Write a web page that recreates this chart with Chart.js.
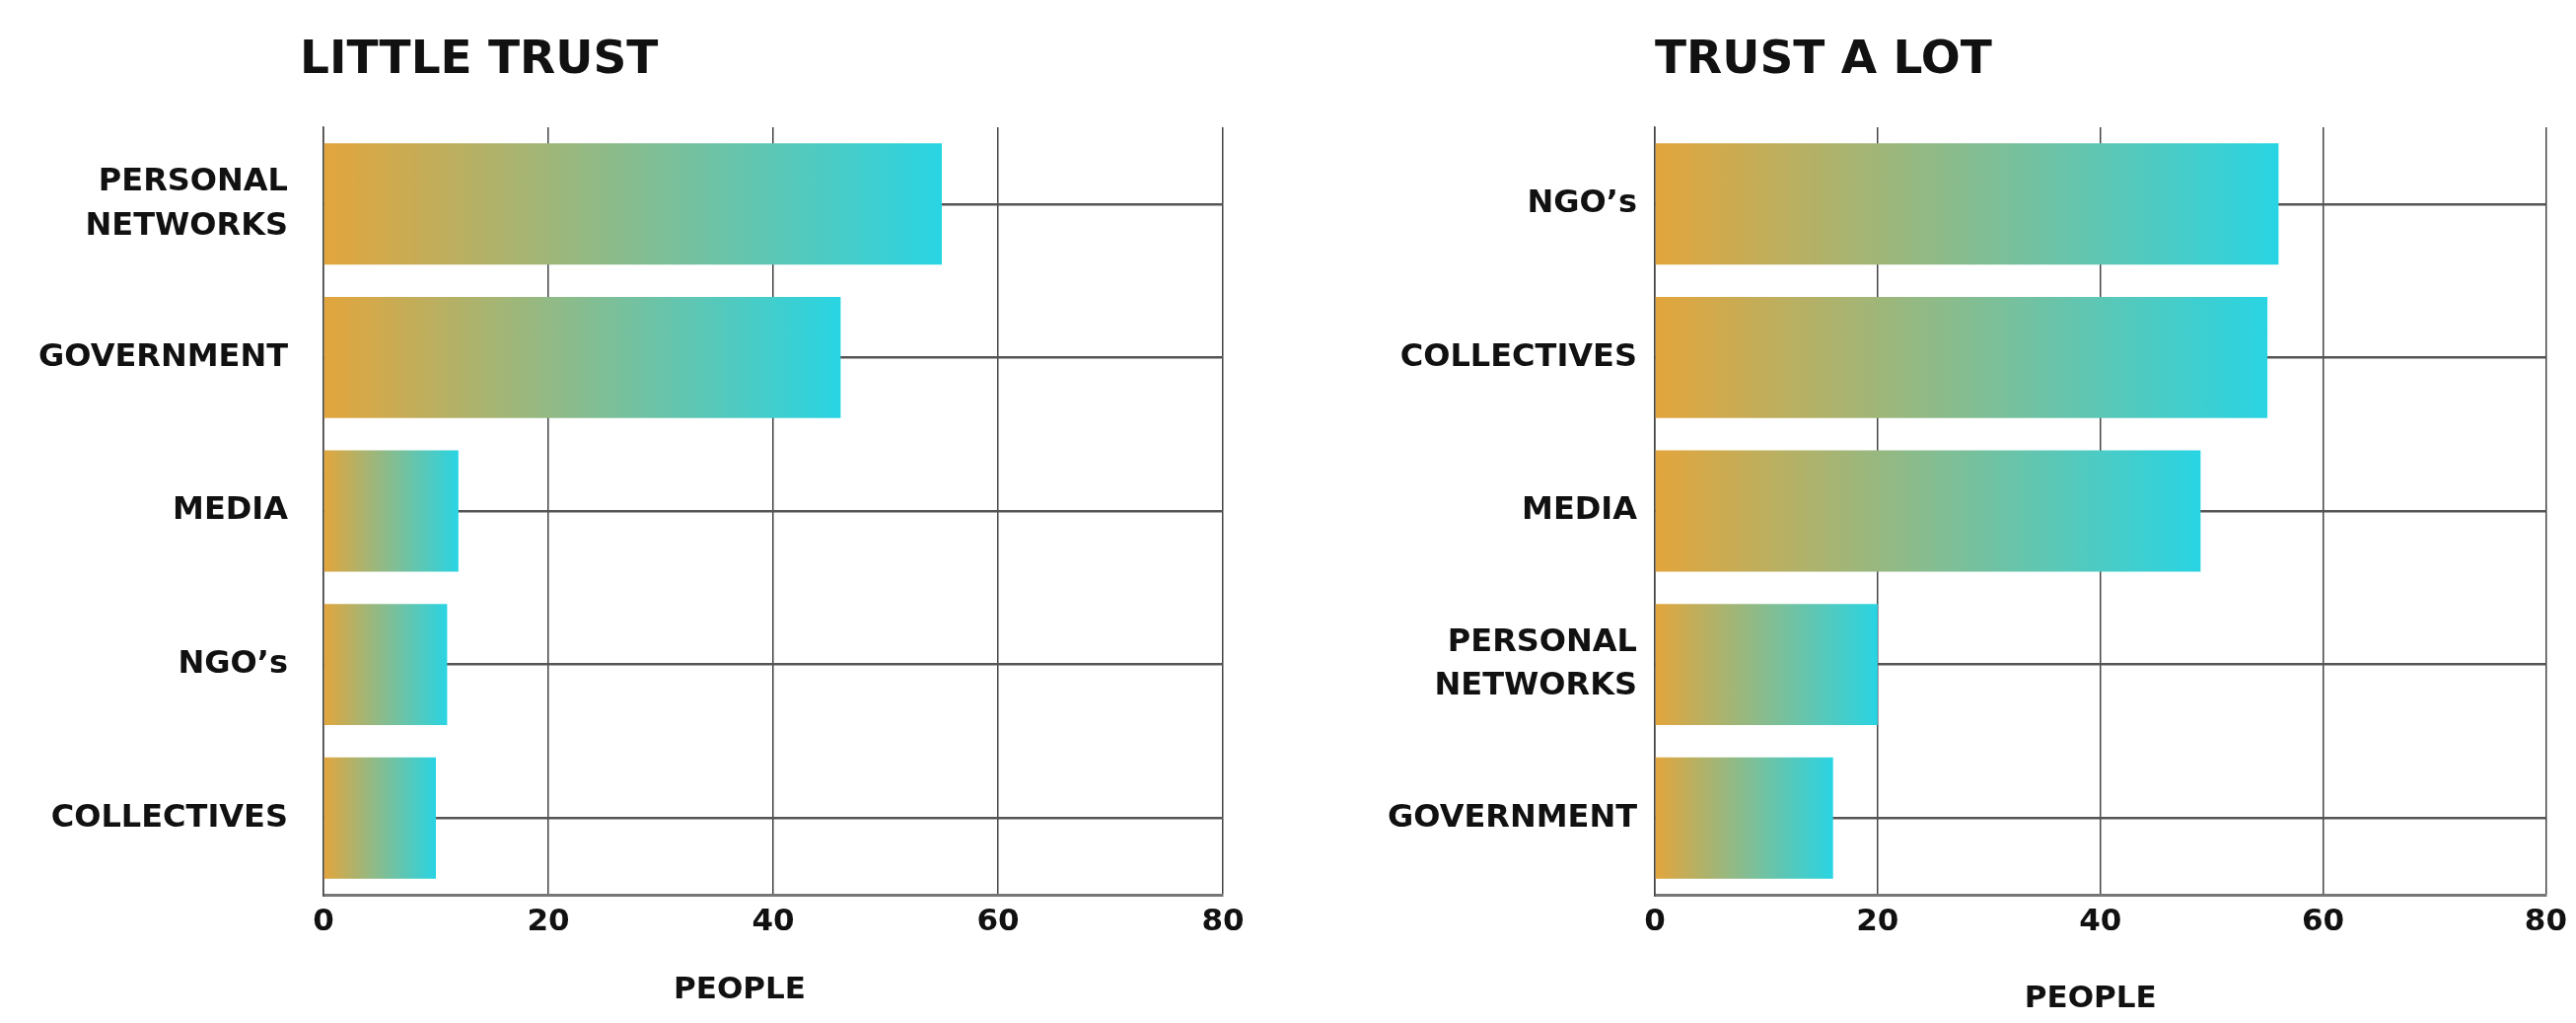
<!DOCTYPE html>
<html>
<head>
<meta charset="utf-8">
<script src="https://cdn.jsdelivr.net/npm/chart.js@4/dist/chart.umd.min.js"></script>
<style>
  body { margin: 0; background: #fff; }
  .wrap { position: absolute; top: 0; width: 1306px; height: 1037px; }
  #leftWrap { left: 0; }
  #rightWrap { left: 1306px; }
</style>
</head>
<body>
<div class="wrap" id="leftWrap"><canvas id="leftChart" width="1306" height="1037"></canvas></div>
<div class="wrap" id="rightWrap"><canvas id="rightChart" width="1306" height="1037"></canvas></div>
<script>
// data
const leftTitle = "LITTLE TRUST";
const leftCategories = [["PERSONAL", "NETWORKS"], "GOVERNMENT", "MEDIA", "NGO’s", "COLLECTIVES"];
const leftValues = [55, 46, 12, 11, 10];

const rightTitle = "TRUST A LOT";
const rightCategories = ["NGO’s", "COLLECTIVES", "MEDIA", ["PERSONAL", "NETWORKS"], "GOVERNMENT"];
const rightValues = [56, 55, 49, 20, 16];

const xTicks = [0, 20, 40, 60, 80];
const xTitle = "PEOPLE";

const FONT = '"DejaVu Sans", sans-serif';
const INK = '#111';

// big title above the plot + axis title under it (both slightly off-centre in the original)
const titles = {
  id: 'titles',
  afterDraw(chart, args, o) {
    const ctx = chart.ctx;
    const area = chart.chartArea;
    ctx.save();
    ctx.fillStyle = INK;
    ctx.font = 'bold 47px ' + FONT;
    ctx.textAlign = 'left';
    ctx.textBaseline = 'alphabetic';
    ctx.fillText(o.text, area.left + o.dx, 74);

    ctx.font = 'bold 31px ' + FONT;
    ctx.textAlign = 'center';
    ctx.textBaseline = 'middle';
    ctx.fillText(o.axis, (area.left + area.right) / 2 + o.axisDx, o.axisY);
    ctx.restore();
  }
};

// each bar gets its own orange -> cyan gradient
function barGradient(c) {
  const chart = c.chart;
  if (!chart.chartArea) return '#E2A63E';
  const x = chart.scales.x;
  const x0 = x.getPixelForValue(0);
  const x1 = x.getPixelForValue(c.raw);
  const g = chart.ctx.createLinearGradient(x0, 0, x1, 0);
  g.addColorStop(0, '#E3A53C');
  g.addColorStop(1, '#29D4E3');
  return g;
}

function makeChart(id, title, labels, values, s) {
  return new Chart(document.getElementById(id), {
    type: 'bar',
    data: {
      labels: labels,
      datasets: [{
        data: values,
        backgroundColor: barGradient,
        borderWidth: 0,
        barPercentage: 0.79,
        categoryPercentage: 1
      }]
    },
    plugins: [titles],
    options: {
      indexAxis: 'y',
      responsive: false,
      animation: false,
      layout: { padding: { top: 129, right: s.padRight, bottom: 0, left: 0 } },
      plugins: {
        legend: { display: false },
        tooltip: { enabled: false },
        titles: { text: title, dx: s.titleDx, axis: xTitle, axisDx: s.axisDx, axisY: s.axisY }
      },
      scales: {
        x: {
          min: 0,
          max: 80,
          afterBuildTicks: sc => { sc.ticks = xTicks.map(v => ({ value: v })); },
          afterFit: sc => { sc.height = 130; },
          grid: { color: '#444', lineWidth: 1.5, drawTicks: false },
          border: { color: '#777', width: 3 },
          ticks: { color: INK, padding: 9, font: { family: FONT, size: 31, weight: 'bold' } }
        },
        y: {
          afterFit: sc => { sc.width = s.yWidth; },
          grid: { offset: false, color: '#555', lineWidth: 2.5, drawTicks: false },
          border: { color: '#444', width: 1.5 },
          ticks: { color: INK, padding: s.labelPad, font: { family: FONT, size: 32, weight: 'bold', lineHeight: 1.4 } }
        }
      }
    }
  });
}

makeChart('leftChart', leftTitle, leftCategories, leftValues,
  { yWidth: 328, padRight: 66, labelPad: 36, titleDx: -24, axisDx: -34, axisY: 1004 });
makeChart('rightChart', rightTitle, rightCategories, rightValues,
  { yWidth: 372, padRight: 23, labelPad: 18, titleDx: 0, axisDx: -10, axisY: 1013 });
</script>
</body>
</html>
